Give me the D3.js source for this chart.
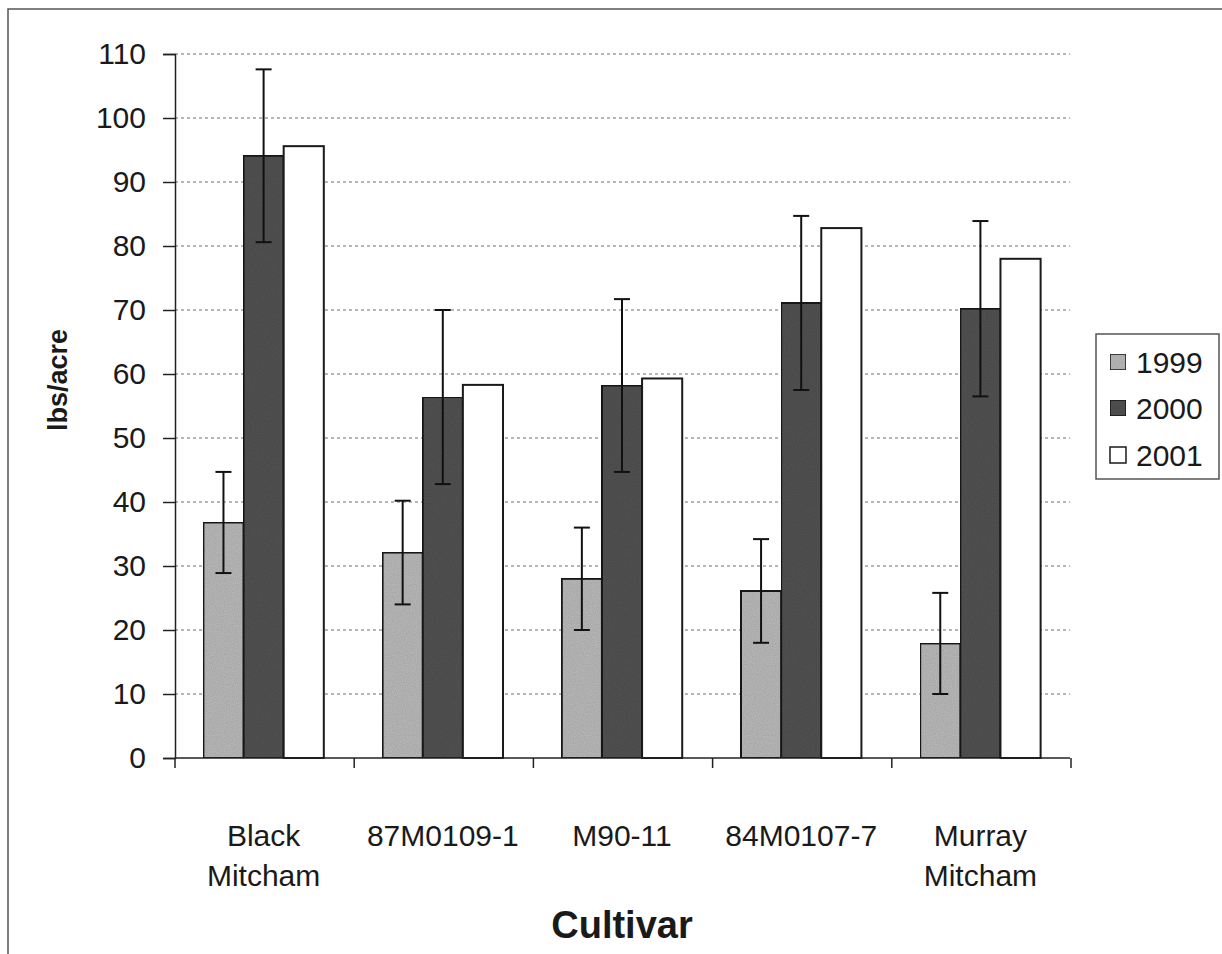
<!DOCTYPE html>
<html>
<head>
<meta charset="utf-8">
<script src="https://cdn.jsdelivr.net/npm/d3@7"></script>
<style>
  html, body { margin: 0; padding: 0; background: #fff; }
  svg { display: block; font-family: "Liberation Sans", Arial, sans-serif; }
</style>
</head>
<body>
<svg id="chart" width="1222" height="954"></svg>
<script>
// Cultivar yields (lbs/acre) by year, with error bar half-widths
const cultivars = [["Black", "Mitcham"], ["87M0109-1"], ["M90-11"], ["84M0107-7"], ["Murray", "Mitcham"]];
const years = ["1999", "2000", "2001"];
const yield1999 = [36.8, 32.1, 28.0, 26.1, 17.9];
const yield2000 = [94.1, 56.4, 58.2, 71.1, 70.2];
const yield2001 = [95.6, 58.3, 59.3, 82.8, 78.0];
const err1999 = [7.9, 8.1, 8.0, 8.1, 7.9];
const err2000 = [13.5, 13.6, 13.5, 13.6, 13.7];
const err2001 = [null, null, null, null, null];
const yTicks = [0, 10, 20, 30, 40, 50, 60, 70, 80, 90, 100, 110];

const seriesValues = [yield1999, yield2000, yield2001];
const seriesErrors = [err1999, err2000, err2001];
const fills = ["#bababa", "#525252", "#ffffff"];

const svg = d3.select("#chart");

// Outer frame of the figure (runs off the right and bottom edges)
svg.append("rect")
  .attr("x", 8).attr("y", 9).attr("width", 1240).attr("height", 980)
  .attr("fill", "none").attr("stroke", "#555").attr("stroke-width", 1.5);

// Stipple texture for the shaded bars
const defs = svg.append("defs");
const filt = defs.append("filter").attr("id", "grain").attr("x", 0).attr("y", 0).attr("width", 1).attr("height", 1);
filt.append("feTurbulence").attr("type", "fractalNoise").attr("baseFrequency", 0.9).attr("numOctaves", 1).attr("seed", 3).attr("result", "noise");
filt.append("feColorMatrix").attr("in", "noise").attr("type", "matrix")
  .attr("values", "0 0 0 0 0  0 0 0 0 0  0 0 0 0 0  0 0 0 0.35 -0.05").attr("result", "dots");
filt.append("feComposite").attr("in", "dots").attr("in2", "SourceGraphic").attr("operator", "in").attr("result", "d2");
const merge = filt.append("feMerge");
merge.append("feMergeNode").attr("in", "SourceGraphic");
merge.append("feMergeNode").attr("in", "d2");

const x0 = 174, x1 = 1070, yTop = 54, yBot = 758;

const x = d3.scaleBand()
  .domain(d3.range(cultivars.length))
  .range([x0, x1])
  .paddingInner(0.328)
  .paddingOuter(0.164);

const xs = d3.scaleBand()
  .domain(years)
  .range([0, x.bandwidth()])
  .padding(0);

const y = d3.scaleLinear().domain([0, 110]).range([yBot, yTop]);

// Dotted gridlines
svg.append("g")
  .selectAll("line")
  .data(yTicks.filter(t => t > 0))
  .join("line")
  .attr("x1", x0 + 1).attr("x2", x1)
  .attr("y1", d => y(d)).attr("y2", d => y(d))
  .attr("stroke", "#6e6e6e").attr("stroke-width", 1)
  .attr("stroke-dasharray", "3,3");

// Bars
const groups = svg.append("g")
  .selectAll("g")
  .data(years)
  .join("g");

groups.each(function (yr, si) {
  const g = d3.select(this);
  g.selectAll("rect")
    .data(seriesValues[si])
    .join("rect")
    .attr("x", (d, i) => x(i) + xs(yr))
    .attr("y", d => y(d))
    .attr("width", xs.bandwidth())
    .attr("height", d => yBot - y(d))
    .attr("fill", fills[si])
    .attr("stroke", "#1a1a1a")
    .attr("stroke-width", 2)
    .attr("filter", si < 2 ? "url(#grain)" : null);
});

// Error bars
groups.each(function (yr, si) {
  const g = d3.select(this);
  const data = seriesValues[si].map((v, i) => ({ i, v, e: seriesErrors[si][i] })).filter(d => d.e != null);
  const cx = d => x(d.i) + xs(yr) + xs.bandwidth() / 2;
  g.selectAll("line.stem").data(data).join("line").attr("class", "stem")
    .attr("x1", cx).attr("x2", cx)
    .attr("y1", d => y(d.v + d.e)).attr("y2", d => y(d.v - d.e))
    .attr("stroke", "#111").attr("stroke-width", 2);
  ["top", "bot"].forEach(k => {
    g.selectAll("line.cap-" + k).data(data).join("line").attr("class", "cap-" + k)
      .attr("x1", d => cx(d) - 8).attr("x2", d => cx(d) + 8)
      .attr("y1", d => y(k === "top" ? d.v + d.e : d.v - d.e))
      .attr("y2", d => y(k === "top" ? d.v + d.e : d.v - d.e))
      .attr("stroke", "#111").attr("stroke-width", 2);
  });
});

// Y axis
const yAxis = svg.append("g")
  .attr("transform", `translate(${x0 + 1},0)`)
  .call(d3.axisLeft(y).tickValues(yTicks).tickSize(12).tickPadding(17));
yAxis.select(".domain").attr("stroke", "#222").attr("stroke-width", 1.5);
yAxis.selectAll(".tick line").attr("stroke", "#222").attr("stroke-width", 1.5);
yAxis.selectAll(".tick text")
  .attr("font-size", 30).attr("fill", "#1a1a1a")
  .attr("font-family", "'Liberation Sans', Arial, sans-serif");

// X axis line and category boundary ticks
svg.append("line")
  .attr("x1", x0 + 1).attr("x2", x1).attr("y1", yBot).attr("y2", yBot)
  .attr("stroke", "#222").attr("stroke-width", 1.5);
svg.append("g").selectAll("line")
  .data(d3.range(cultivars.length + 1))
  .join("line")
  .attr("x1", i => x0 + 1 + i * (x1 - x0) / cultivars.length)
  .attr("x2", i => x0 + 1 + i * (x1 - x0) / cultivars.length)
  .attr("y1", yBot).attr("y2", yBot + 10)
  .attr("stroke", "#222").attr("stroke-width", 1.5);

// Category labels
const labels = svg.append("g").selectAll("text")
  .data(cultivars)
  .join("text")
  .attr("x", (d, i) => x(i) + x.bandwidth() / 2)
  .attr("y", 846)
  .attr("text-anchor", "middle")
  .attr("font-size", 30)
  .attr("fill", "#1a1a1a");
labels.selectAll("tspan")
  .data(d => d)
  .join("tspan")
  .attr("x", function () { return d3.select(this.parentNode).attr("x"); })
  .attr("dy", (d, i) => i === 0 ? 0 : 40)
  .text(d => d);

// Axis titles
svg.append("text")
  .attr("transform", "translate(67,380) rotate(-90)")
  .attr("text-anchor", "middle")
  .attr("font-size", 27).attr("font-weight", "bold").attr("fill", "#1a1a1a")
  .text("lbs/acre");

svg.append("text")
  .attr("x", 622).attr("y", 938)
  .attr("text-anchor", "middle")
  .attr("font-size", 38).attr("font-weight", "bold").attr("fill", "#1a1a1a")
  .text("Cultivar");

// Legend
const legend = svg.append("g");
legend.append("rect")
  .attr("x", 1096).attr("y", 334).attr("width", 123).attr("height", 145)
  .attr("fill", "#fff").attr("stroke", "#555").attr("stroke-width", 1.5);
const rowY = [362, 408, 455];
const items = legend.selectAll("g.item").data(years).join("g").attr("class", "item");
items.append("rect")
  .attr("x", 1110).attr("y", (d, i) => rowY[i] - 8)
  .attr("width", 16).attr("height", 16)
  .attr("fill", (d, i) => fills[i])
  .attr("stroke", "#1a1a1a").attr("stroke-width", 1.5)
  .attr("filter", (d, i) => i < 2 ? "url(#grain)" : null);
items.append("text")
  .attr("x", 1136).attr("y", (d, i) => rowY[i] + 11)
  .attr("font-size", 30).attr("fill", "#1a1a1a")
  .text(d => d);
</script>
</body>
</html>
